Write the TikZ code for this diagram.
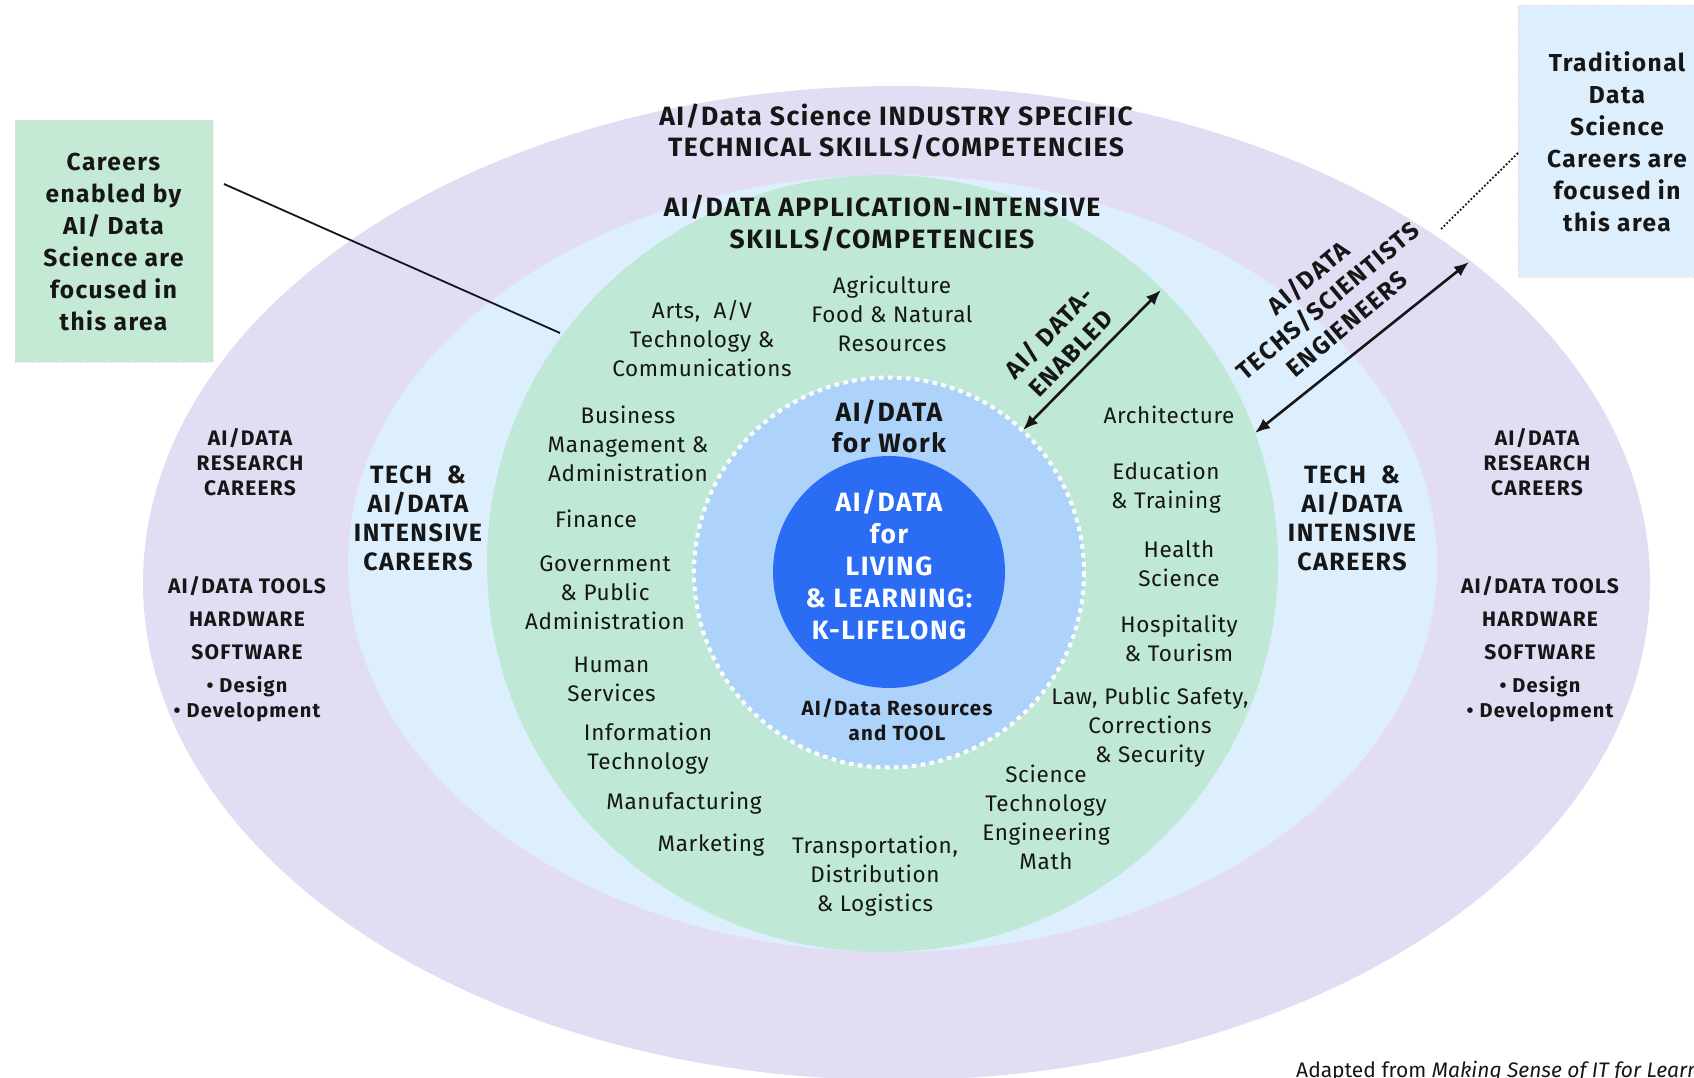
\documentclass[tikz,border=0pt]{standalone}
\usepackage{fontspec}
\setmainfont{Fira Sans}
\newfontfamily\lsb{Fira Sans}[LetterSpace=6]
\newfontfamily\lsr{Fira Sans}[LetterSpace=3]
\usetikzlibrary{arrows.meta}
\definecolor{purp}{HTML}{E3DDF4}
\definecolor{lblue}{HTML}{DDEFFD}
\definecolor{mint}{HTML}{BFE8D6}
\definecolor{skyb}{HTML}{ADD3FB}
\definecolor{royal}{HTML}{2A6DF4}
\definecolor{ink}{HTML}{161616}
\definecolor{boxgreen}{HTML}{C4E9D5}
\definecolor{boxblue}{HTML}{DDEFFD}
\definecolor{faint}{HTML}{EAD6D6}
\begin{document}
\begin{tikzpicture}[x=1pt,y=-1pt,
  lbl/.style={align=center,text=ink,inner sep=0pt,font=\lsr\fontsize{22.5}{29}\selectfont},
  hdr/.style={align=center,text=ink,inner sep=0pt,font=\lsb\bfseries\fontsize{26.5}{31.5}\selectfont},
  sidebold/.style={align=center,text=ink,inner sep=0pt,font=\lsb\bfseries\fontsize{21}{25}\selectfont},
  callout/.style={align=center,text=ink,inner sep=0pt,font=\lsb\bfseries\fontsize{24.5}{32}\selectfont},
  dbl/.style={{Latex[length=15pt,width=12pt]}-{Latex[length=15pt,width=12pt]},line width=2.6pt,draw=ink},
  rotlbl/.style={align=center,text=ink,inner sep=0pt,font=\lsb\bfseries\fontsize{24.5}{30}\selectfont}
]
\useasboundingbox (0,0) rectangle (1694,1078);
\clip (0,0) rectangle (1694,1078);

% rings
\fill[purp] (896.5,583) ellipse [x radius=753.5, y radius=497];
\fill[lblue] (892.5,563.5) ellipse [x radius=544.5, y radius=388.5];
\fill[mint] (882.5,563.5) ellipse [x radius=395.5, y radius=388.5];
\filldraw[fill=skyb,draw=white,line width=4pt,dash pattern=on 4.5pt off 4.5pt] (889,572.5) circle [radius=195];
\fill[royal] (889,572) circle [radius=116];

% callout boxes
\node[draw=faint,dotted,fill=boxgreen,minimum width=198pt,minimum height=242pt,inner sep=0pt] (careers) at (114,241) {};
\node[callout] (careerstxt) at (113.5,242) {Careers\\enabled by\\AI/ Data\\Science are\\focused in\\this area};
\node[draw=faint,dotted,fill=boxblue,minimum width=176pt,minimum height=272pt,inner sep=0pt] (trad) at (1606,141) {};
\node[callout] (tradtxt) at (1617,142) {Traditional\\Data\\Science\\Careers are\\focused in\\this area};

\coordinate (c1) at (224,184);
\coordinate (c2) at (560,333);
\draw[line width=1.8pt,ink] (c1) -- (c2);
\coordinate (t1) at (1518,153);
\coordinate (t2) at (1440,230);
\draw[line width=1.8pt,ink,dotted] (t1) -- (t2);

% headers
\node[hdr] (h1) at (896,131.5) {AI/Data Science INDUSTRY SPECIFIC\\TECHNICAL SKILLS/COMPETENCIES};
\node[hdr] (h2) at (882,223) {AI/DATA APPLICATION-INTENSIVE\\SKILLS/COMPETENCIES};

% center
\node[align=center,text=ink,inner sep=0pt,font=\lsb\bfseries\fontsize{26.5}{31}\selectfont] (work) at (889,426) {AI/DATA\\for Work};
\node[align=center,text=white,inner sep=0pt,font=\lsb\bfseries\fontsize{26.5}{32}\selectfont] (living) at (889,565) {AI/DATA\\for\\LIVING\\\& LEARNING:\\K-LIFELONG};
\node[align=center,text=ink,inner sep=0pt,font=\lsb\bfseries\fontsize{20.5}{25}\selectfont] (tool) at (897,720) {AI/Data Resources\\and TOOL};

% sectors
\node[lbl] (agri) at (892,314) {Agriculture\\Food \& Natural\\Resources};
\node[lbl] (arts) at (702,338.5) {Arts,\ \ A/V\\Technology \&\\Communications};
\node[lbl] (bus) at (628,443.5) {Business\\Management \&\\Administration};
\node[lbl] (fin) at (596,519) {Finance};
\node[lbl] (gov) at (605,592.5) {Government\\\& Public\\Administration};
\node[lbl] (hum) at (611.5,679.5) {Human\\Services};
\node[lbl] (info) at (648,748.5) {Information\\Technology};
\node[lbl] (manu) at (684,803) {Manufacturing};
\node[lbl] (mark) at (711,845) {Marketing};
\node[lbl] (trans) at (875,876.5) {Transportation,\\Distribution\\\& Logistics};
\node[lbl] (stem) at (1046,817) {Science\\Technology\\Engineering\\Math};
\node[lbl] (law) at (1150,727) {Law, Public Safety,\\Corrections\\\& Security};
\node[lbl] (hosp) at (1179,638.5) {Hospitality\\\& Tourism};
\node[lbl] (health) at (1179,564) {Health\\Science};
\node[lbl] (edu) at (1166,488) {Education\\\& Training};
\node[lbl] (arch) at (1169,415) {Architecture};

% side labels
\node[align=center,text=ink,inner sep=0pt,font=\lsb\bfseries\fontsize{25}{29}\selectfont] (techL) at (418,518.5) {TECH\ \ \&\\AI/DATA\\INTENSIVE\\CAREERS};
\node[align=center,text=ink,inner sep=0pt,font=\lsb\bfseries\fontsize{25}{29}\selectfont] (techR) at (1352,518.5) {TECH\ \ \&\\AI/DATA\\INTENSIVE\\CAREERS};
\node[sidebold] (resL) at (250,462) {AI/DATA\\RESEARCH\\CAREERS};
\node[sidebold] (resR) at (1537,462) {AI/DATA\\RESEARCH\\CAREERS};
\node[sidebold] (toolsL) at (247,649) {AI/DATA TOOLS\\[8pt]HARDWARE\\[8pt]SOFTWARE\\[8pt]{\fontsize{20}{25}\selectfont\textbullet\ Design}\\{\fontsize{20}{25}\selectfont\textbullet\ Development}};
\node[sidebold] (toolsR) at (1540,649) {AI/DATA TOOLS\\[8pt]HARDWARE\\[8pt]SOFTWARE\\[8pt]{\fontsize{20}{25}\selectfont\textbullet\ Design}\\{\fontsize{20}{25}\selectfont\textbullet\ Development}};

% arrows
\coordinate (a1s) at (1023,430);
\coordinate (a1e) at (1161,290);
\draw[dbl] (a1s) -- (a1e);
\coordinate (a2s) at (1255,433);
\coordinate (a2e) at (1469,262);
\draw[dbl] (a2s) -- (a2e);
\node[rotlbl,rotate=46] (enab) at (1059,342) {AI/ DATA-\\ENABLED};
\node[rotlbl,rotate=40] (techs) at (1327,300) {AI/DATA\\TECHS/SCIENTISTS\\ENGIENEERS};

% footer
\node[anchor=base west,inner sep=0pt,text=ink,font=\fontsize{21}{24}\selectfont] (foot) at (1296,1077) {Adapted from \textit{Making Sense of IT for Learning}};
\end{tikzpicture}
\end{document}
